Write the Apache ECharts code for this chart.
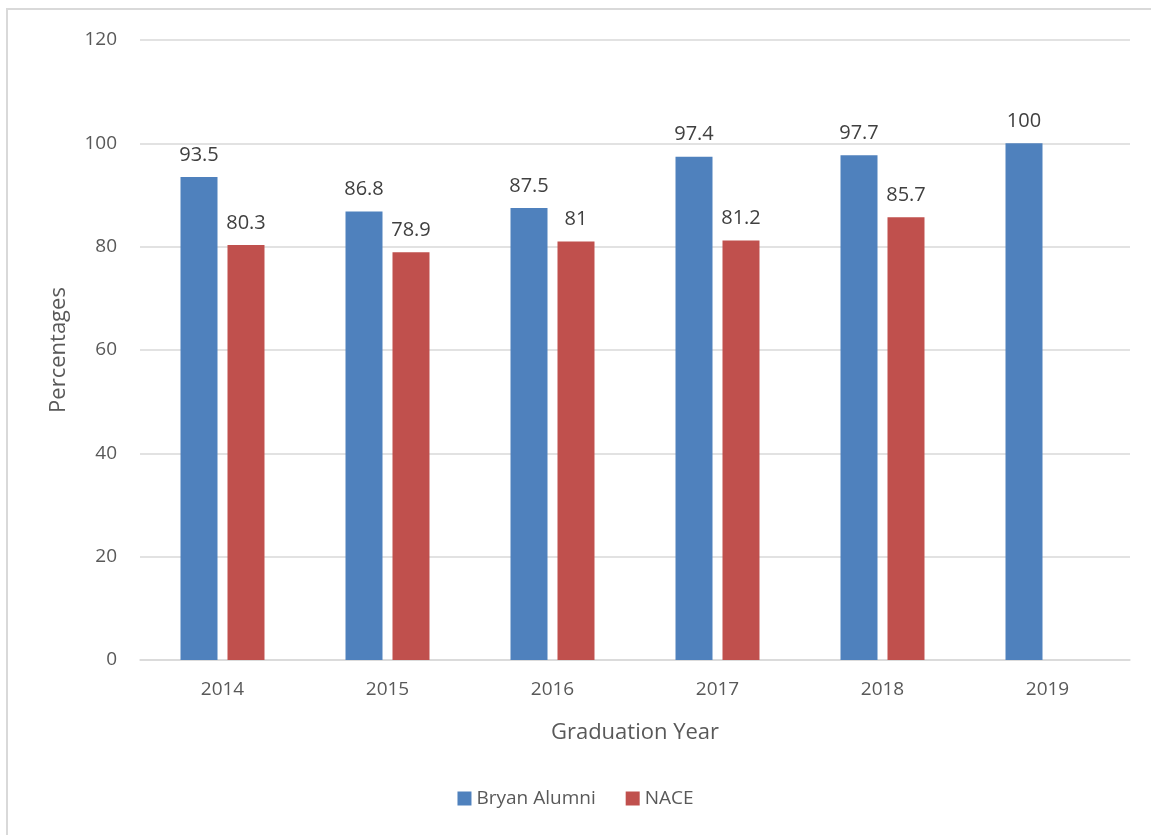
<!DOCTYPE html>
<html>
<head>
<meta charset="utf-8">
<script src="https://cdn.jsdelivr.net/npm/echarts@6/dist/echarts.min.js"></script>
<style>
  html, body { margin: 0; padding: 0; background: #fff; }
  #chart { width: 1151px; height: 835px; }
</style>
</head>
<body>
<div id="chart"></div>
<script>
const years = ['2014', '2015', '2016', '2017', '2018', '2019']
const bryanAlumni = [93.5, 86.8, 87.5, 97.4, 97.7, 100]
const nace = [80.3, 78.9, 81, 81.2, 85.7, null]

const font = 'Open Sans, Lato, sans-serif'
const textColor = '#595959'

const chart = echarts.init(document.getElementById('chart'))

chart.setOption({
  animation: false,
  textStyle: { fontFamily: font },
  graphic: [{
    type: 'rect',
    shape: { x: 7, y: 9, width: 1200, height: 900 },
    style: { fill: 'none', stroke: '#d9d9d9', lineWidth: 2 },
    silent: true
  }],
  grid: { left: 140, right: 21, top: 40, bottom: 175 },
  legend: {
    bottom: 22,
    left: 'center',
    itemWidth: 14,
    itemHeight: 14,
    itemGap: 30,
    icon: 'rect',
    textStyle: { fontSize: 19, color: textColor, fontFamily: font }
  },
  xAxis: {
    type: 'category',
    data: years,
    name: 'Graduation Year',
    nameLocation: 'middle',
    nameGap: 62,
    nameTextStyle: { fontSize: 22, color: textColor },
    axisLine: { lineStyle: { color: '#d9d9d9', width: 1.5 } },
    axisTick: { show: false },
    axisLabel: { fontSize: 19, color: textColor, margin: 20 }
  },
  yAxis: {
    type: 'value',
    min: 0,
    max: 120,
    interval: 20,
    name: 'Percentages',
    nameLocation: 'middle',
    nameGap: 70,
    nameTextStyle: { fontSize: 22, color: textColor },
    axisLine: { show: false },
    axisTick: { show: false },
    axisLabel: { fontSize: 19, color: textColor, margin: 23 },
    splitLine: { lineStyle: { color: '#d9d9d9', width: 1.5 } }
  },
  series: [
    {
      name: 'Bryan Alumni',
      type: 'bar',
      data: bryanAlumni,
      barWidth: 37,
      barGap: '27%',
      itemStyle: { color: '#4f81bd' },
      label: { show: true, position: 'top', distance: 12, fontSize: 20, color: '#404040' }
    },
    {
      name: 'NACE',
      type: 'bar',
      data: nace,
      barWidth: 37,
      itemStyle: { color: '#c0504d' },
      label: { show: true, position: 'top', distance: 12, fontSize: 20, color: '#404040' }
    }
  ]
})
</script>
</body>
</html>
